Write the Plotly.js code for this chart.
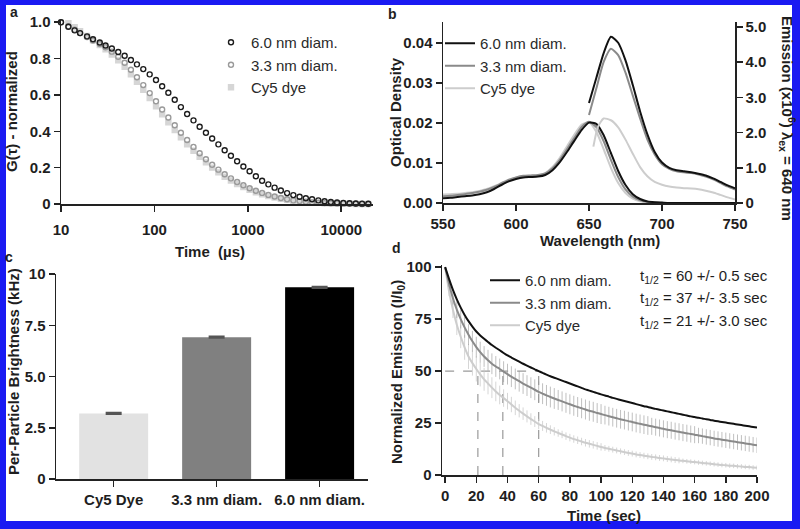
<!DOCTYPE html>
<html>
<head>
<meta charset="utf-8">
<script src="https://cdn.plot.ly/plotly-3.0.1.min.js"></script>
<style>
  html, body { margin: 0; padding: 0; background: #fff; }
  #chart { width: 800px; height: 529px; }
</style>
</head>
<body>
<div id="chart"></div>
<script>
// ---- data: panel a (FCS autocorrelation) ----
const seriesNames = ["6.0 nm diam.", "3.3 nm diam.", "Cy5 dye"];

const fcsTime = [10, 12, 14, 16, 19, 22, 26, 30, 35, 41, 48, 56, 65, 76, 89, 104, 121, 141, 165, 192,
  224, 262, 305, 356, 415, 484, 565, 659, 768, 896, 1045, 1219, 1422, 1659, 1935, 2257, 2633, 3071, 3582, 4178,
  4874, 5685, 6631, 7735, 9023, 10525, 12277, 14321, 16705, 19486];
const fcs60 = [1.000, 0.975, 0.955, 0.940, 0.922, 0.906, 0.888, 0.872, 0.855, 0.836, 0.815, 0.792, 0.768, 0.742, 0.713, 0.682, 0.648, 0.612, 0.573, 0.533,
  0.495, 0.460, 0.425, 0.392, 0.360, 0.328, 0.296, 0.265, 0.235, 0.206, 0.180, 0.153, 0.128, 0.108, 0.090, 0.074, 0.060, 0.049, 0.040, 0.032,
  0.026, 0.020, 0.015, 0.011, 0.008, 0.006, 0.004, 0.003, 0.002, 0.001];
const fcs33 = [1.000, 0.978, 0.958, 0.940, 0.918, 0.899, 0.880, 0.862, 0.838, 0.810, 0.777, 0.738, 0.697, 0.654, 0.610, 0.565, 0.520, 0.476, 0.433, 0.392,
  0.352, 0.314, 0.279, 0.246, 0.216, 0.189, 0.164, 0.141, 0.121, 0.103, 0.087, 0.073, 0.061, 0.050, 0.041, 0.033, 0.026, 0.020, 0.016, 0.012,
  0.009, 0.007, 0.005, 0.004, 0.003, 0.002, 0.001, 0.001, 0.000, 0.000];
const fcsCy5 = [1.015, 0.995, 0.972, 0.950, 0.924, 0.900, 0.874, 0.851, 0.822, 0.790, 0.754, 0.714, 0.672, 0.628, 0.583, 0.538, 0.493, 0.449, 0.407, 0.367,
  0.329, 0.293, 0.260, 0.229, 0.200, 0.174, 0.150, 0.129, 0.110, 0.093, 0.078, 0.065, 0.054, 0.044, 0.036, 0.029, 0.023, 0.018, 0.014, 0.010,
  0.008, 0.006, 0.004, 0.003, 0.002, 0.001, 0.001, 0.000, 0.000, 0.000];

// ---- data: panel b (absorbance + emission) ----
const absWl = [550, 555, 560, 565, 570, 575, 580, 585, 590, 595, 600, 605, 610, 615, 620, 625, 630, 635, 640, 645, 650,
  655, 660, 665, 670, 675, 680, 685, 690, 695, 700, 705, 710, 715, 720, 725, 730, 735, 740, 745, 750];
const abs60 = [0.0012, 0.0013, 0.0015, 0.0017, 0.0019, 0.0022, 0.0027, 0.0035, 0.0045, 0.0054, 0.0060, 0.0064, 0.0065, 0.0066, 0.0070, 0.0082, 0.0102, 0.0128, 0.0156, 0.0183, 0.0201,
  0.0198, 0.0170, 0.0125, 0.0080, 0.0045, 0.0022, 0.0010, 0.0004, 0.0002, 0.0001, 0, 0, 0, 0, 0, 0, 0, 0, 0, 0];
const abs33 = [0.0017, 0.0018, 0.0020, 0.0022, 0.0025, 0.0028, 0.0033, 0.0040, 0.0049, 0.0058, 0.0064, 0.0068, 0.0069, 0.0070, 0.0074, 0.0087, 0.0108, 0.0135, 0.0163, 0.0190, 0.0203,
  0.0190, 0.0155, 0.0108, 0.0065, 0.0034, 0.0016, 0.0007, 0.0003, 0.0001, 0, 0, 0, 0, 0, 0, 0, 0, 0, 0, 0];
const absCy5 = [0.0021, 0.0022, 0.0023, 0.0025, 0.0027, 0.0030, 0.0035, 0.0042, 0.0050, 0.0058, 0.0063, 0.0066, 0.0067, 0.0069, 0.0075, 0.0090, 0.0113, 0.0142, 0.0171, 0.0196, 0.0202,
  0.0178, 0.0135, 0.0088, 0.0050, 0.0025, 0.0011, 0.0004, 0.0001, 0, 0, 0, 0, 0, 0, 0, 0, 0, 0, 0, 0];

const emWl = [650, 655, 660, 665, 670, 675, 680, 685, 690, 695, 700, 705, 710, 715, 720, 725, 730, 735, 740, 745, 750];
const em60 = [2.84, 3.55, 4.25, 4.72, 4.55, 4.05, 3.35, 2.60, 1.95, 1.45, 1.15, 1.00, 0.93, 0.90, 0.87, 0.83, 0.78, 0.70, 0.60, 0.50, 0.42];
const em33 = [2.50, 3.25, 4.00, 4.38, 4.20, 3.70, 3.05, 2.40, 1.80, 1.38, 1.10, 0.97, 0.90, 0.87, 0.85, 0.81, 0.75, 0.67, 0.57, 0.47, 0.38];
const emWlCy5 = [653, 656, 660, 665, 670, 675, 680, 685, 690, 695, 700, 705, 710, 715, 720, 725, 730, 735, 740, 745, 750];
const emCy5 = [1.60, 2.15, 2.40, 2.35, 2.15, 1.80, 1.40, 1.02, 0.76, 0.60, 0.52, 0.47, 0.44, 0.42, 0.41, 0.39, 0.35, 0.30, 0.23, 0.16, 0.10];

// ---- data: panel c (per-particle brightness) ----
const brightLabels = ["Cy5 Dye", "3.3 nm diam.", "6.0 nm diam."];
const brightValues = [3.2, 6.92, 9.35];
const brightErr = [0.03, 0.03, 0.03];

// ---- data: panel d (photobleaching, one reading every 2.5 s) ----
const photoTime = [0, 2.5, 5, 7.5, 10, 12.5, 15, 17.5, 20, 22.5, 25, 27.5, 30, 32.5, 35, 37.5, 40, 42.5, 45, 47.5,
  50, 52.5, 55, 57.5, 60, 62.5, 65, 67.5, 70, 72.5, 75, 77.5, 80, 82.5, 85, 87.5, 90, 92.5, 95, 97.5,
  100, 102.5, 105, 107.5, 110, 112.5, 115, 117.5, 120, 122.5, 125, 127.5, 130, 132.5, 135, 137.5, 140, 142.5, 145, 147.5,
  150, 152.5, 155, 157.5, 160, 162.5, 165, 167.5, 170, 172.5, 175, 177.5, 180, 182.5, 185, 187.5, 190, 192.5, 195, 197.5, 200];
const photo60 = [100, 94.3, 89, 84.5, 80.5, 77, 74, 71.4, 69, 67.1, 65.5, 64, 62.5, 61.2, 60, 58.7, 57.5, 56.5, 55.5, 54.5,
  53.5, 52.6, 51.7, 50.8, 50, 49.1, 48.3, 47.5, 46.8, 46.1, 45.4, 44.7, 44, 43.3, 42.6, 41.9, 41.2, 40.6, 40, 39.4,
  38.8, 38.2, 37.7, 37.1, 36.6, 36.1, 35.6, 35.1, 34.6, 34.1, 33.6, 33.1, 32.7, 32.2, 31.8, 31.4, 31, 30.6, 30.2, 29.8,
  29.4, 29, 28.6, 28.2, 27.9, 27.5, 27.2, 26.8, 26.5, 26.1, 25.8, 25.5, 25.2, 24.9, 24.6, 24.3, 24, 23.7, 23.4, 23.1, 22.8];
const photo33 = [100, 92, 85, 79.5, 75, 71, 67.5, 64.3, 61.5, 59.1, 57, 55.2, 53.5, 52.2, 51, 49.7, 48.5, 47.3, 46.2, 45.1,
  44, 43, 42, 41, 40, 39.1, 38.3, 37.5, 36.8, 36.1, 35.4, 34.7, 34, 33.3, 32.7, 32.1, 31.5, 30.9, 30.4, 29.8,
  29.3, 28.8, 28.3, 27.8, 27.3, 26.8, 26.4, 25.9, 25.5, 25, 24.6, 24.2, 23.8, 23.4, 23, 22.6, 22.2, 21.8, 21.5, 21.1,
  20.8, 20.4, 20.1, 19.7, 19.4, 19, 18.7, 18.3, 18, 17.6, 17.3, 17, 16.7, 16.4, 16.1, 15.8, 15.5, 15.2, 14.9, 14.6, 14.3];
const photoCy5 = [100, 88.5, 79.5, 72.3, 66.5, 61.4, 57, 53.8, 51, 48.4, 46, 44, 42, 40.2, 38.5, 37, 35.5, 33.9, 32.3, 30.9,
  29.5, 28.2, 26.9, 25.7, 24.5, 23.6, 22.7, 21.8, 21, 20.2, 19.5, 18.7, 18, 17.3, 16.7, 16.1, 15.5, 15, 14.5, 14,
  13.5, 13, 12.6, 12.2, 11.8, 11.4, 11, 10.6, 10.3, 9.9, 9.6, 9.3, 9, 8.7, 8.5, 8.2, 8, 7.7, 7.5, 7.2,
  7, 6.8, 6.6, 6.4, 6.2, 6, 5.8, 5.6, 5.4, 5.2, 5, 4.8, 4.7, 4.5, 4.4, 4.2, 4.1, 3.9, 3.8, 3.6, 3.5];
const err33 = [0, 1.5, 3, 4, 4.5, 5, 5, 5, 5, 5, 5, 5, 5, 5, 5, 5, 5, 5, 5, 5,
  5, 5, 5, 5, 5, 5, 5, 5, 5, 4.8, 4.8, 4.8, 4.8, 4.8, 4.8, 4.8, 4.8, 4.8, 4.8, 4.8,
  4.8, 4.5, 4.5, 4.5, 4.5, 4.5, 4.5, 4.5, 4.5, 4.5, 4.5, 4.5, 4.5, 4.1, 4.1, 4.1, 4.1, 4.1, 4.1, 4.1,
  4.1, 4.1, 4.1, 4.1, 4.1, 3.7, 3.7, 3.7, 3.7, 3.7, 3.7, 3.7, 3.7, 3.7, 3.7, 3.7, 3.7, 3.7, 3.7, 3.7, 3.7];
const errCy5 = [0, 2.5, 4, 5, 5.5, 6, 6, 6, 6, 5.8, 5.5, 5.2, 5, 4.7, 4.5, 4.2, 4, 3.7, 3.5, 3.2,
  3, 2.9, 2.8, 2.6, 2.5, 2.4, 2.3, 2.1, 2, 1.8, 1.8, 1.8, 1.8, 1.8, 1.8, 1.8, 1.8, 1.8, 1.8, 1.8,
  1.8, 1.4, 1.4, 1.4, 1.4, 1.4, 1.4, 1.4, 1.4, 1.4, 1.4, 1.4, 1.4, 1.4, 1.4, 1.4, 1.4, 1.4, 1.4, 1.4,
  1.4, 1.1, 1.1, 1.1, 1.1, 1.1, 1.1, 1.1, 1.1, 1.1, 1.1, 1.1, 1.1, 1.1, 1.1, 1.1, 1.1, 1.1, 1.1, 1.1, 1.1];
const halfLevel = 50;
const halfLives = [60, 37, 21];
const halfLifeErr = [0.5, 3.5, 3.0];

// ---- styling ----
const FONT = "Liberation Sans, Arial, Helvetica, sans-serif";
const W = 800;
const H = 529;
const fx = (px) => px / W;
const fy = (py) => 1 - py / H;

const lineColors = ["#111111", "#8a8a8a", "#cdcdcd"];
const markerColors = ["#1c1c1c", "#9a9a9a", "#d6d6d6"];
const barColors = ["#e2e2e2", "#808080", "#000000"];

const tickFont = { family: FONT, size: 15, color: "#1e1e1e", weight: "bold" };
const legendFont = { family: FONT, size: 15, color: "#2a2a2a" };

const axisBase = {
  showline: true,
  linecolor: "#222",
  linewidth: 1.5,
  ticks: "outside",
  ticklen: 6,
  tickwidth: 1.5,
  tickcolor: "#222",
  showgrid: false,
  zeroline: false,
  automargin: false,
  fixedrange: true,
  tickfont: tickFont,
};

function legendBox(pxX, pxY) {
  return {
    x: fx(pxX),
    y: fy(pxY),
    xanchor: "left",
    yanchor: "top",
    bgcolor: "rgba(0,0,0,0)",
    borderwidth: 0,
    font: legendFont,
    tracegroupgap: 0,
  };
}

function label(text, pxX, pxY, opts = {}) {
  return {
    text,
    x: fx(pxX),
    y: fy(pxY),
    xref: "paper",
    yref: "paper",
    showarrow: false,
    xanchor: opts.xanchor || "center",
    yanchor: "middle",
    textangle: opts.angle || 0,
    font: { family: FONT, size: opts.size || 15, color: "#1e1e1e", weight: opts.weight || "bold" },
  };
}

// ---- traces ----
const traces = [];

// panel a
[fcs60, fcs33, fcsCy5].forEach((vals, i) => {
  traces.push({
    x: fcsTime,
    y: vals,
    type: "scatter",
    mode: "markers",
    name: seriesNames[i],
    xaxis: "x",
    yaxis: "y",
    legend: "legend",
    legendrank: i + 1,
    cliponaxis: false,
    marker: {
      symbol: i === 2 ? "square" : "circle-open",
      size: 5,
      color: markerColors[i],
      line: { width: 1.4, color: markerColors[i] },
    },
  });
});
// draw dark series last so it sits on top
traces.reverse();

// panel b: absorbance on left axis, emission on right axis
[absCy5, abs33, abs60].forEach((vals, k) => {
  const i = 2 - k;
  traces.push({
    x: absWl,
    y: vals,
    type: "scatter",
    mode: "lines",
    name: seriesNames[i],
    xaxis: "x2",
    yaxis: "y2",
    legend: "legend2",
    legendrank: i + 1,
    legendgroup: "b" + i,
    line: { color: lineColors[i], width: 2, shape: "spline", smoothing: 0.6 },
  });
});
[[emWlCy5, emCy5, 2], [emWl, em33, 1], [emWl, em60, 0]].forEach(([wl, vals, i]) => {
  traces.push({
    x: wl,
    y: vals,
    type: "scatter",
    mode: "lines",
    name: seriesNames[i],
    xaxis: "x2",
    yaxis: "y3",
    showlegend: false,
    legendgroup: "b" + i,
    line: { color: lineColors[i], width: 2, shape: "spline", smoothing: 0.6 },
  });
});

// panel c
traces.push({
  x: brightLabels,
  y: brightValues,
  type: "bar",
  xaxis: "x3",
  yaxis: "y4",
  width: 0.67,
  showlegend: false,
  marker: { color: barColors, line: { width: 0 } },
  error_y: { type: "data", array: brightErr, color: "#555", thickness: 2, width: 8 },
});

// panel d: half-life guide lines
const refX = [0, Math.max(...halfLives), null];
const refY = [halfLevel, halfLevel, null];
halfLives.forEach((t) => {
  refX.push(t, t, null);
  refY.push(0, halfLevel, null);
});
traces.push({
  x: refX,
  y: refY,
  type: "scatter",
  mode: "lines",
  xaxis: "x4",
  yaxis: "y5",
  showlegend: false,
  hoverinfo: "skip",
  line: { color: "#9a9a9a", width: 1.2, dash: "dash" },
});

[[photoCy5, errCy5, 2], [photo33, err33, 1], [photo60, null, 0]].forEach(([vals, err, i]) => {
  const tr = {
    x: photoTime,
    y: vals,
    type: "scatter",
    mode: "lines",
    name: seriesNames[i],
    xaxis: "x4",
    yaxis: "y5",
    legend: "legend3",
    legendrank: i + 1,
    line: { color: lineColors[i], width: 2, shape: "spline", smoothing: 0.5 },
  };
  if (err) {
    tr.error_y = {
      type: "data",
      array: err,
      color: i === 1 ? "rgba(150,150,150,0.6)" : "rgba(200,200,200,0.75)",
      thickness: 1,
      width: 0,
    };
  }
  traces.push(tr);
});

// ---- layout ----
const legendRowsD = [276, 298.5, 321];
const annotations = [
  label("a", 14, 12, { size: 14 }),
  label("b", 392, 14, { size: 14 }),
  label("c", 9, 257, { size: 14 }),
  label("d", 396, 248, { size: 14 }),
  label("G(τ) - normalized", 11, 112, { angle: -90 }),
  label("Time  (µs)", 210, 251),
  label("Optical Density", 395, 112, { angle: -90 }),
  label("Wavelength (nm)", 600, 240),
  label("Emission (x10<sup>6</sup>) λ<sub>ex</sub> = 640 nm", 788, 118, { angle: 90 }),
  label("Per-Particle Brightness (kHz)", 13, 372, { angle: -90 }),
  label("Normalized Emission (I/I<sub>0</sub>)", 397, 372, { angle: -90 }),
  label("Time (sec)", 604, 515),
];
halfLives.forEach((t, i) => {
  annotations.push(
    label(`t<sub>1/2</sub> = ${t} +/- ${halfLifeErr[i].toFixed(1)} sec`, 638, legendRowsD[i], {
      xanchor: "left",
      weight: "normal",
    }),
  );
});

const layout = {
  width: W,
  height: H,
  margin: { l: 0, r: 0, t: 0, b: 0 },
  paper_bgcolor: "#1a1af2",
  plot_bgcolor: "rgba(0,0,0,0)",
  font: { family: FONT, color: "#222" },
  showlegend: true,
  shapes: [
    {
      type: "rect",
      xref: "paper",
      yref: "paper",
      x0: fx(6),
      x1: fx(792),
      y0: fy(521),
      y1: fy(5),
      fillcolor: "#ffffff",
      line: { width: 0 },
      layer: "below",
    },
  ],
  annotations,
  legend: legendBox(211, 26),
  legend2: legendBox(440, 27),
  legend3: legendBox(485, 264),

  xaxis: {
    ...axisBase,
    type: "log",
    domain: [fx(61), fx(373)],
    range: [1, 4.34],
    anchor: "y",
    tickvals: [10, 100, 1000, 10000],
    ticktext: ["10", "100", "1000", "10000"],
    ticklabelstandoff: 5,
  },
  yaxis: {
    ...axisBase,
    domain: [fy(204), fy(20)],
    range: [0, 1.012],
    anchor: "x",
    tickvals: [0, 0.2, 0.4, 0.6, 0.8, 1.0],
    ticktext: ["0", "0.2", "0.4", "0.6", "0.8", "1.0"],
  },

  xaxis2: {
    ...axisBase,
    domain: [fx(443), fx(735)],
    range: [550, 750],
    anchor: "y2",
    tick0: 550,
    dtick: 50,
  },
  yaxis2: {
    ...axisBase,
    domain: [fy(203), fy(22)],
    range: [0, 0.04525],
    anchor: "x2",
    tickvals: [0, 0.01, 0.02, 0.03, 0.04],
    ticktext: ["0.00", "0.01", "0.02", "0.03", "0.04"],
  },
  yaxis3: {
    ...axisBase,
    overlaying: "y2",
    side: "right",
    anchor: "x2",
    range: [0, 5.14],
    tickvals: [0, 1, 2, 3, 4, 5],
    ticktext: ["0", "1.0", "2.0", "3.0", "4.0", "5.0"],
  },

  xaxis3: {
    ...axisBase,
    type: "category",
    domain: [fx(56), fx(368)],
    range: [-0.56, 2.47],
    anchor: "y4",
  },
  yaxis4: {
    ...axisBase,
    domain: [fy(479), fy(274)],
    range: [0, 10],
    anchor: "x3",
    tickvals: [0, 2.5, 5, 7.5, 10],
    ticktext: ["0", "2.5", "5.0", "7.5", "10"],
  },

  xaxis4: {
    ...axisBase,
    domain: [fx(442), fx(757)],
    range: [-2, 200],
    anchor: "y5",
    tick0: 0,
    dtick: 20,
  },
  yaxis5: {
    ...axisBase,
    domain: [fy(475), fy(265)],
    range: [0, 101],
    anchor: "x4",
    tickvals: [0, 25, 50, 75, 100],
  },
};

Plotly.newPlot("chart", traces, layout, { staticPlot: true, displayModeBar: false });
</script>
</body>
</html>
